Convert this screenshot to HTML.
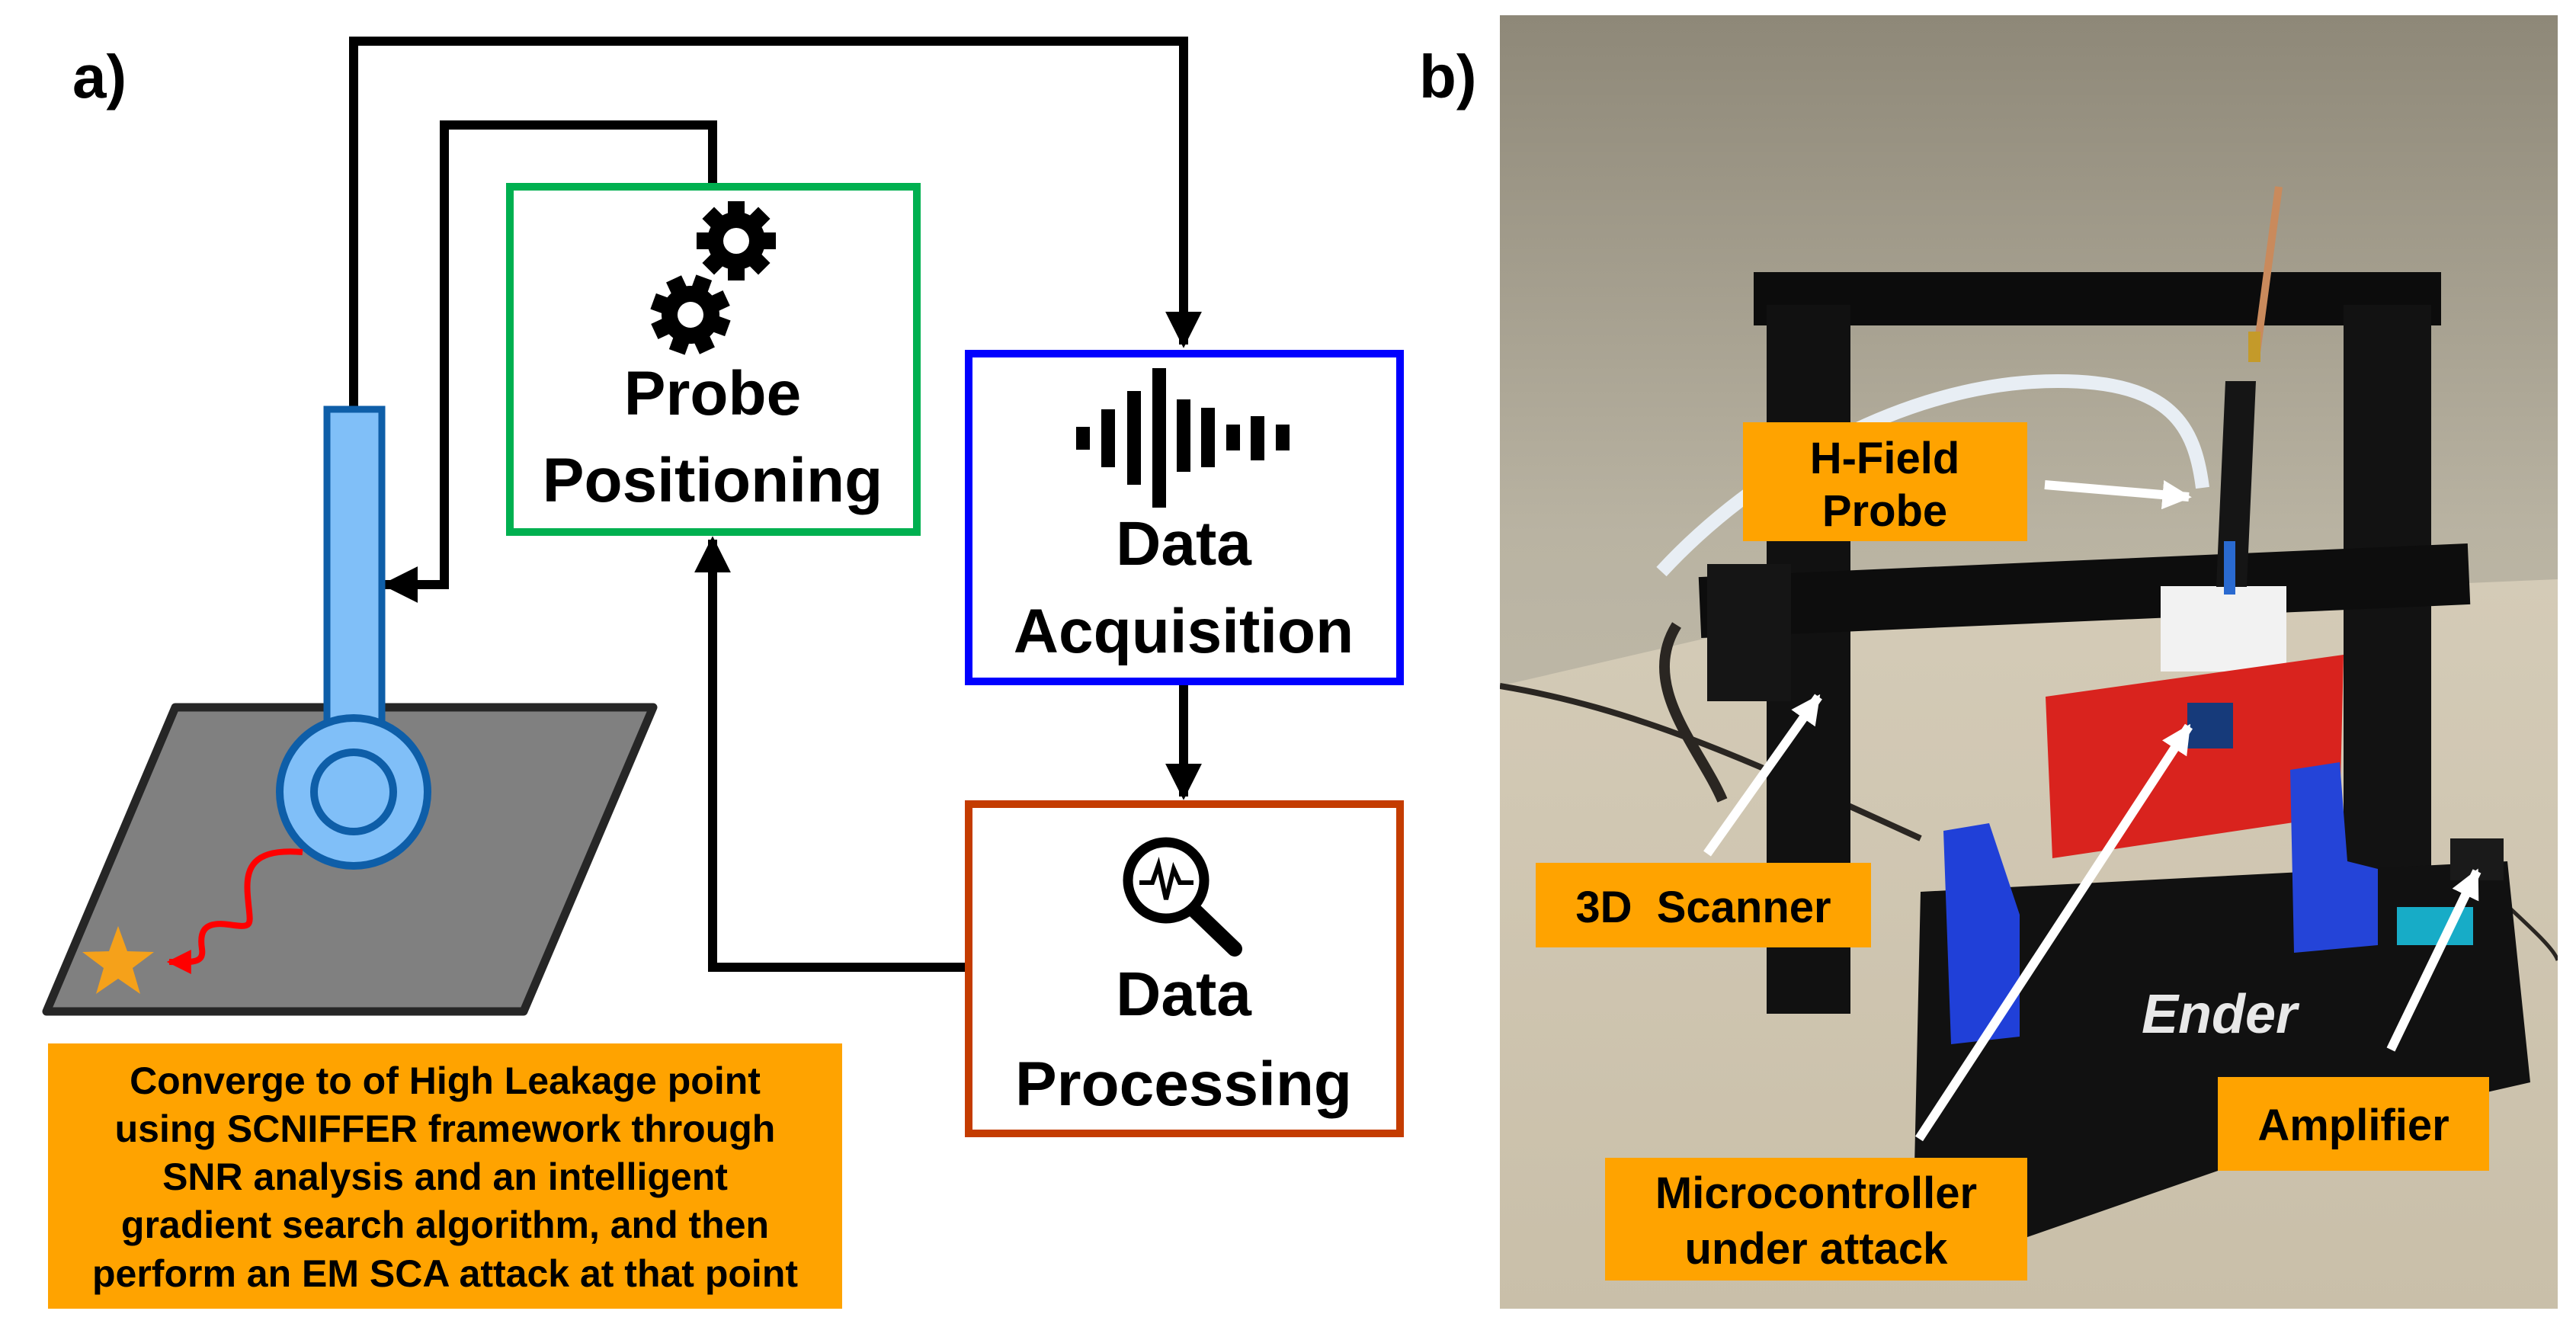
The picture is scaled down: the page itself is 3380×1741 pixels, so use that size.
<!DOCTYPE html>
<html><head><meta charset="utf-8"><style>
html,body{margin:0;padding:0;background:#fff;}
svg{display:block}
text{font-family:"Liberation Sans",sans-serif;font-weight:bold;}
</style></head><body>
<svg width="3380" height="1741" viewBox="0 0 3380 1741" xmlns="http://www.w3.org/2000/svg">
<defs>
<marker id="ah" viewBox="0 0 10 10" refX="9" refY="5" markerWidth="4" markerHeight="4" orient="auto" markerUnits="strokeWidth"><path d="M0,0 L10,5 L0,10 z" fill="#000"/></marker>
<marker id="aw" viewBox="0 0 10 10" refX="9" refY="5" markerWidth="3.2" markerHeight="3.2" orient="auto" markerUnits="strokeWidth"><path d="M0,0 L10,5 L0,10 z" fill="#fff"/></marker>
<marker id="ar" viewBox="0 0 10 10" refX="9" refY="5" markerWidth="4" markerHeight="4" orient="auto" markerUnits="strokeWidth"><path d="M0,0 L10,5 L0,10 z" fill="#f00"/></marker>
<linearGradient id="wall" x1="0" y1="0" x2="0" y2="1"><stop offset="0" stop-color="#8e8878"/><stop offset="0.4" stop-color="#b9b3a2"/><stop offset="1" stop-color="#cbc5b4"/></linearGradient>
<linearGradient id="counter" x1="0" y1="0" x2="0" y2="1"><stop offset="0" stop-color="#d4cbb7"/><stop offset="1" stop-color="#c9bfa9"/></linearGradient>
<g id="gear"><circle r="38" fill="#000"/>
<g fill="#000"><rect x="-11" y="-52" width="22" height="104"/><rect x="-11" y="-52" width="22" height="104" transform="rotate(45)"/><rect x="-11" y="-52" width="22" height="104" transform="rotate(90)"/><rect x="-11" y="-52" width="22" height="104" transform="rotate(135)"/></g>
<circle r="17" fill="#fff"/></g>
</defs>

<text x="95" y="128" font-size="80">a)</text>
<text x="1862" y="128" font-size="80">b)</text>

<g fill="none" stroke="#000" stroke-width="12">
<polyline points="464,540 464,54 1553,54 1553,452" marker-end="url(#ah)"/>
<polyline points="935,240 935,164 583,164 583,767 505,767" marker-end="url(#ah)"/>
<polyline points="1553,899 1553,1045" marker-end="url(#ah)"/>
<polyline points="1266,1269 935,1269 935,708" marker-end="url(#ah)"/>
</g>

<rect x="669" y="245" width="534" height="453" fill="#fff" stroke="#00b050" stroke-width="10"/>
<rect x="1271" y="464" width="566" height="430" fill="#fff" stroke="#0000ff" stroke-width="10"/>
<rect x="1271" y="1055" width="566" height="432" fill="#fff" stroke="#c43c00" stroke-width="10"/>

<use href="#gear" transform="translate(966,316)"/>
<use href="#gear" transform="translate(906,413) rotate(20)"/>

<text x="935" y="544" font-size="82" text-anchor="middle">Probe</text>
<text x="935" y="658" font-size="82" text-anchor="middle">Positioning</text>

<g fill="#000">
<rect x="1412" y="560" width="18" height="30"/>
<rect x="1445" y="537" width="18" height="76"/>
<rect x="1479" y="513" width="18" height="123"/>
<rect x="1512" y="483" width="18" height="183"/>
<rect x="1544" y="524" width="18" height="95"/>
<rect x="1576" y="535" width="18" height="78"/>
<rect x="1609" y="557" width="18" height="34"/>
<rect x="1641" y="546" width="18" height="58"/>
<rect x="1674" y="557" width="18" height="34"/>
</g>
<text x="1553" y="741" font-size="82" text-anchor="middle">Data</text>
<text x="1553" y="856" font-size="82" text-anchor="middle">Acquisition</text>

<circle cx="1530" cy="1155" r="50" fill="none" stroke="#000" stroke-width="13"/>
<line x1="1568" y1="1195" x2="1620" y2="1245" stroke="#000" stroke-width="20" stroke-linecap="round"/>
<polyline points="1495,1158 1512,1158 1520,1135 1530,1180 1540,1140 1548,1158 1566,1158" fill="none" stroke="#000" stroke-width="6"/>
<text x="1553" y="1332" font-size="82" text-anchor="middle">Data</text>
<text x="1553" y="1450" font-size="82" text-anchor="middle">Processing</text>

<polygon points="230,928 857,928 687,1327 61,1327" fill="#808080" stroke="#262626" stroke-width="11" stroke-linejoin="round"/>
<rect x="429" y="537" width="72" height="420" fill="#80bff8" stroke="#0e5ea8" stroke-width="9"/>
<circle cx="464" cy="1039" r="97" fill="#80bff8" stroke="#0e5ea8" stroke-width="10"/>
<circle cx="464" cy="1039" r="52" fill="#80bff8" stroke="#0e5ea8" stroke-width="10"/>
<path d="M397,1118 C330,1112 322,1140 325,1175 C328,1215 335,1218 300,1213 C265,1208 262,1225 265,1245 C268,1265 250,1262 222,1262" fill="none" stroke="#f00" stroke-width="8" marker-end="url(#ar)"/>
<polygon points="155,1215 167,1248 202,1249 174,1270 184,1304 155,1284 126,1304 136,1270 108,1249 143,1248" fill="#f5a11a"/>

<rect x="63" y="1369" width="1042" height="348" fill="#ffa300"/>
<g font-size="50" text-anchor="middle" fill="#000">
<text x="584" y="1435">Converge to of High Leakage point</text>
<text x="584" y="1498">using SCNIFFER framework through</text>
<text x="584" y="1561">SNR analysis and an intelligent</text>
<text x="584" y="1624">gradient search algorithm, and then</text>
<text x="584" y="1688">perform an EM SCA attack at that point</text>
</g>

<svg x="1968" y="20" width="1388" height="1697" viewBox="1968 20 1388 1697">
<rect x="1968" y="20" width="1388" height="1697" fill="url(#wall)"/>
<polygon points="1968,900 2400,800 3356,760 3356,1717 1968,1717" fill="url(#counter)"/>
<path d="M1968,900 C2150,930 2300,1000 2520,1100" fill="none" stroke="#2a2622" stroke-width="8"/>
<path d="M2200,820 C2150,900 2230,980 2260,1050" fill="none" stroke="#2a2622" stroke-width="14"/>
<path d="M2180,750 C2300,620 2500,500 2700,500 C2850,500 2880,560 2890,640" fill="none" stroke="#e8eef4" stroke-width="18"/>
<path d="M3250,1150 C3300,1200 3350,1240 3356,1260" fill="none" stroke="#2a2622" stroke-width="5"/>
<rect x="2301" y="357" width="902" height="70" fill="#0c0c0c"/>
<rect x="2318" y="400" width="110" height="930" fill="#111"/>
<rect x="3075" y="400" width="115" height="830" fill="#121212"/>
<rect x="2230" y="735" width="1010" height="80" fill="#0d0d0d" transform="rotate(-2.5 2735 775)"/>
<rect x="2240" y="740" width="110" height="180" fill="#151515"/>
<polygon points="2520,1170 3290,1130 3320,1420 3100,1470 2640,1630 2510,1620" fill="#111"/>
<rect x="3145" y="1190" width="100" height="50" fill="#19d3f5" opacity="0.8"/>
<text x="2810" y="1355" font-family="Liberation Serif,serif" font-size="72" fill="#e8e8e8" font-style="italic">Ender</text>
<rect x="2835" y="769" width="165" height="112" fill="#f2f2f2"/>
<polygon points="2920,500 2960,500 2948,770 2908,770" fill="#151515"/>
<rect x="2918" y="710" width="15" height="70" fill="#2a6ad0"/>
<line x1="2960" y1="470" x2="2990" y2="245" stroke="#c98a5c" stroke-width="10"/>
<rect x="2950" y="435" width="16" height="40" fill="#c49a2a"/>
<polygon points="2684,914 3075,859 3070,1070 2693,1126" fill="#d9231e"/>
<rect x="2870" y="922" width="60" height="60" fill="#163a7a"/>
<polygon points="2550,1090 2610,1080 2650,1200 2650,1360 2560,1370" fill="#2040d8"/>
<polygon points="3005,1010 3070,1000 3080,1130 3120,1140 3120,1240 3010,1250" fill="#2444d8"/>
<rect x="3215" y="1100" width="70" height="55" fill="#1a1a1a"/>
</svg>

<g stroke="#fff" stroke-width="12" fill="none">
<line x1="2683" y1="636" x2="2872" y2="652" marker-end="url(#aw)"/>
<line x1="2240" y1="1120" x2="2386" y2="914" marker-end="url(#aw)"/>
<line x1="2518" y1="1494" x2="2872" y2="953" marker-end="url(#aw)"/>
<line x1="3137" y1="1377" x2="3250" y2="1143" marker-end="url(#aw)"/>
</g>

<g fill="#ffa300">
<rect x="2287" y="554" width="373" height="156"/>
<rect x="2015" y="1132" width="440" height="111"/>
<rect x="2910" y="1413" width="356" height="123"/>
<rect x="2106" y="1519" width="554" height="161"/>
</g>
<g font-size="58" text-anchor="middle" fill="#000">
<text x="2473" y="621">H-Field</text>
<text x="2473" y="690">Probe</text>
<text x="2235" y="1210" xml:space="preserve">3D  Scanner</text>
<text x="3088" y="1496">Amplifier</text>
<text x="2383" y="1585">Microcontroller</text>
<text x="2383" y="1658">under attack</text>
</g>
</svg>
</body></html>
